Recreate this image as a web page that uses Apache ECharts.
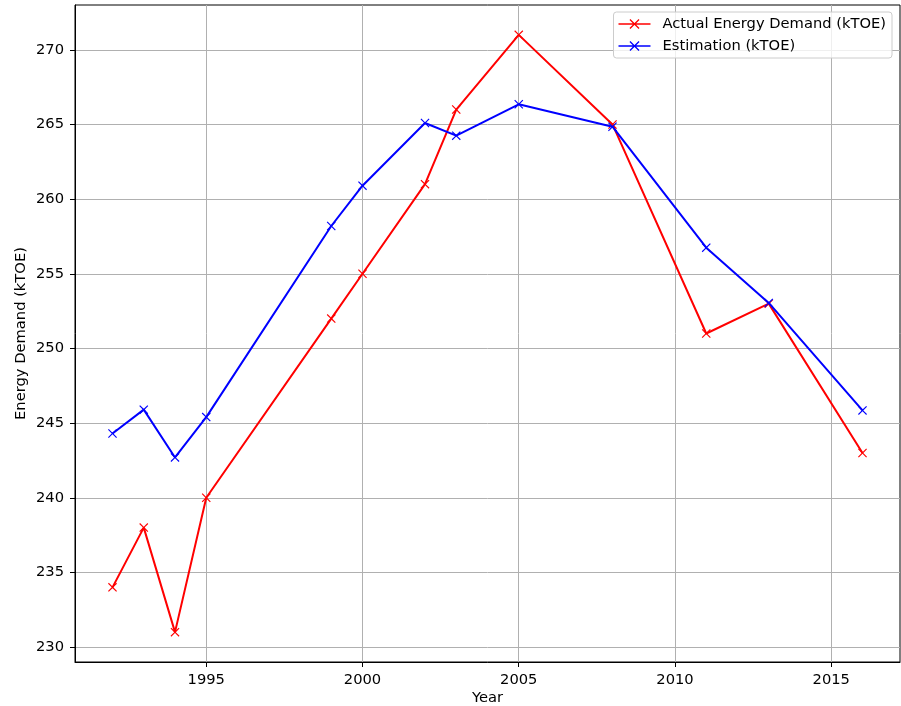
<!DOCTYPE html>
<html>
<head>
<meta charset="utf-8">
<script src="https://cdn.jsdelivr.net/npm/echarts@6/dist/echarts.min.js"></script>
<style>html,body{margin:0;padding:0;background:#fff;}#c{width:901px;height:706px;}</style>
</head>
<body>
<div id="c"></div>
<script>
const years = [1992, 1993, 1994, 1995, 1999, 2000, 2002, 2003, 2005, 2008, 2011, 2013, 2016];
const actualDemand = [234, 238, 231, 240, 252, 255, 261, 266, 271, 265, 251, 253, 243];
const estimation = [244.3, 245.9, 242.7, 245.4, 258.2, 260.9, 265.1, 264.25, 266.35, 264.85, 256.75, 253.05, 245.85];
const xTicks = [1995, 2000, 2005, 2010, 2015];
const yTicks = [230, 235, 240, 245, 250, 255, 260, 265, 270];

const crossPath = 'path://M0.9 0 L5 4.1 L9.1 0 L10 0.9 L5.9 5 L10 9.1 L9.1 10 L5 5.9 L0.9 10 L0 9.1 L4.1 5 L0 0.9 Z';
const legendIcon = 'path://M0 4.3 L32 4.3 L32 5.7 L0 5.7 Z M11 0.9 L11.9 0 L21 9.1 L20.1 10 Z M20.1 0 L21 0.9 L11.9 10 L11 9.1 Z';

const font = 'DejaVu Sans';
const fs = 14.7;
const chart = echarts.init(document.getElementById('c'), null, {renderer: 'canvas'});
chart.setOption({
  animation: false,
  backgroundColor: '#ffffff',
  textStyle: {fontFamily: font},
  grid: {left: 75, right: 1, top: 5, bottom: 44, show: true, borderColor: '#000', borderWidth: 1, containLabel: false, outerBoundsMode: 'none'},
  legend: {
    top: 12, right: 9,
    orient: 'vertical',
    itemWidth: 32, itemHeight: 10, itemGap: 6,
    padding: [4, 6, 4, 5],
    backgroundColor: 'rgba(255,255,255,0.8)',
    borderColor: '#cccccc', borderWidth: 1, borderRadius: 3,
    textStyle: {fontFamily: font, fontSize: fs, color: '#000', lineHeight: 16, padding: [0, 0, 0, 7]},
    data: [
      {name: 'Actual Energy Demand (kTOE)', icon: legendIcon, itemStyle: {color: '#ff0000'}},
      {name: 'Estimation (kTOE)', icon: legendIcon, itemStyle: {color: '#0000ff'}}
    ]
  },
  xAxis: {
    type: 'value', min: 1990.8, max: 2017.2,
    name: 'Year', nameLocation: 'middle', nameGap: 29, nameMoveOverlap: false,
    nameTextStyle: {fontFamily: font, fontSize: fs, color: '#000'},
    axisLine: {show: true, onZero: false, lineStyle: {color: '#000', width: 1}},
    axisTick: {show: true, customValues: xTicks, length: 5, lineStyle: {color: '#000'}},
    axisLabel: {customValues: xTicks, formatter: v => String(v), fontFamily: font, fontSize: fs, color: '#000', margin: 11},
    splitLine: {show: true, lineStyle: {color: '#b0b0b0', width: 1}}
  },
  yAxis: {
    type: 'value', min: 229, max: 273,
    name: 'Energy Demand (kTOE)', nameLocation: 'middle', nameGap: 46, nameRotate: 90, nameMoveOverlap: false,
    nameTextStyle: {fontFamily: font, fontSize: fs, color: '#000'},
    axisLine: {show: true, onZero: false, lineStyle: {color: '#000', width: 1}},
    axisTick: {show: true, customValues: yTicks, length: 5, lineStyle: {color: '#000'}},
    axisLabel: {customValues: yTicks, formatter: v => String(v), fontFamily: font, fontSize: fs, color: '#000', margin: 11},
    splitLine: {show: true, lineStyle: {color: '#b0b0b0', width: 1}}
  },
  series: [
    {
      name: 'Actual Energy Demand (kTOE)', type: 'line',
      data: years.map((y, i) => [y, actualDemand[i]]),
      symbol: crossPath, symbolSize: 9, showSymbol: true,
      lineStyle: {color: '#ff0000', width: 2},
      itemStyle: {color: '#ff0000'},
      z: 3
    },
    {
      name: 'Estimation (kTOE)', type: 'line',
      data: years.map((y, i) => [y, estimation[i]]),
      symbol: crossPath, symbolSize: 9, showSymbol: true,
      lineStyle: {color: '#0000ff', width: 2},
      itemStyle: {color: '#0000ff'},
      z: 4
    }
  ]
});
</script>
</body>
</html>
